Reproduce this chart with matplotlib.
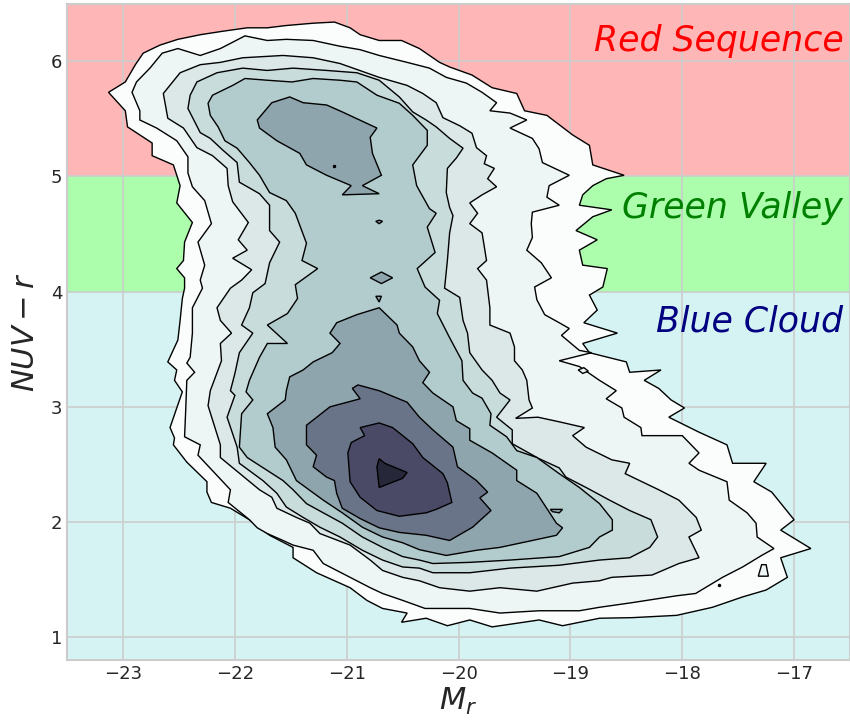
import matplotlib
matplotlib.use("Agg")
import matplotlib.pyplot as plt
import seaborn as sns

# colour-magnitude density, filled contour levels (outermost first)
level1 = [(-23.13, 5.73), (-22.98, 5.82), (-22.89, 5.97), (-22.82, 6.07), (-22.67, 6.14),
          (-22.51, 6.19), (-22.31, 6.23), (-22.11, 6.26), (-21.89, 6.29), (-21.71, 6.29),
          (-21.54, 6.31), (-21.30, 6.33), (-21.11, 6.34), (-20.97, 6.29), (-20.88, 6.23),
          (-20.71, 6.18), (-20.51, 6.18), (-20.35, 6.11), (-20.17, 5.99), (-20.08, 5.95),
          (-19.88, 5.88), (-19.70, 5.77), (-19.48, 5.72), (-19.41, 5.57), (-19.21, 5.53),
          (-18.98, 5.36), (-18.83, 5.27), (-18.80, 5.10), (-18.52, 5.01), (-18.68, 4.98),
          (-18.80, 4.92), (-18.89, 4.84), (-18.92, 4.75), (-18.63, 4.71), (-18.80, 4.65),
          (-18.95, 4.53), (-18.76, 4.45), (-18.92, 4.36), (-18.89, 4.23), (-18.67, 4.20),
          (-18.71, 4.04), (-18.83, 3.97), (-18.76, 3.84), (-18.88, 3.73), (-18.58, 3.64),
          (-18.89, 3.55), (-18.83, 3.47), (-18.50, 3.39), (-18.47, 3.30), (-18.19, 3.32),
          (-18.34, 3.23), (-18.21, 3.16), (-18.10, 3.06), (-17.98, 2.99), (-18.12, 2.91),
          (-17.85, 2.78), (-17.60, 2.67), (-17.55, 2.51), (-17.25, 2.51), (-17.36, 2.35),
          (-17.20, 2.26), (-17.00, 2.02), (-17.12, 1.93), (-16.85, 1.77), (-17.12, 1.69),
          (-17.06, 1.52), (-17.25, 1.41), (-17.46, 1.35), (-17.73, 1.26), (-18.05, 1.19),
          (-18.45, 1.17), (-18.74, 1.165), (-19.07, 1.10), (-19.28, 1.15), (-19.70, 1.09),
          (-19.90, 1.15), (-20.10, 1.10), (-20.29, 1.165), (-20.51, 1.13), (-20.46, 1.21),
          (-20.68, 1.25), (-20.82, 1.32), (-20.97, 1.43), (-21.27, 1.56), (-21.48, 1.69),
          (-21.48, 1.78), (-21.69, 1.885), (-21.87, 2.02), (-22.04, 2.12), (-22.21, 2.17),
          (-22.25, 2.26), (-22.25, 2.35), (-22.43, 2.52), (-22.55, 2.67), (-22.54, 2.73),
          (-22.58, 2.82), (-22.52, 2.99), (-22.47, 3.13), (-22.54, 3.23), (-22.52, 3.32),
          (-22.60, 3.39), (-22.51, 3.58), (-22.49, 3.75), (-22.47, 3.94), (-22.45, 4.03),
          (-22.45, 4.12), (-22.52, 4.20), (-22.46, 4.27), (-22.45, 4.43), (-22.38, 4.60),
          (-22.52, 4.77), (-22.49, 4.92), (-22.55, 5.10), (-22.74, 5.18), (-22.74, 5.29),
          (-22.96, 5.43), (-22.98, 5.57)]

level2 = [(-22.92, 5.73), (-22.88, 5.82), (-22.76, 5.94), (-22.65, 6.07), (-22.51, 6.11),
          (-22.31, 6.05), (-22.13, 6.11), (-21.91, 6.22), (-21.71, 6.18), (-21.54, 6.19),
          (-21.30, 6.18), (-21.06, 6.13), (-20.88, 6.10), (-20.71, 6.05), (-20.46, 5.99),
          (-20.26, 5.94), (-20.11, 5.86), (-19.93, 5.81), (-19.79, 5.73), (-19.66, 5.64),
          (-19.72, 5.57), (-19.54, 5.55), (-19.39, 5.49), (-19.54, 5.42), (-19.34, 5.33),
          (-19.28, 5.24), (-19.25, 5.12), (-19.01, 5.01), (-19.19, 4.92), (-19.21, 4.82),
          (-19.10, 4.75), (-19.34, 4.69), (-19.35, 4.59), (-19.34, 4.47), (-19.39, 4.36),
          (-19.26, 4.25), (-19.17, 4.12), (-19.32, 4.04), (-19.30, 3.93), (-19.23, 3.80),
          (-19.10, 3.73), (-19.01, 3.68), (-19.08, 3.62), (-18.92, 3.49), (-18.81, 3.47),
          (-19.10, 3.40), (-18.92, 3.35), (-18.74, 3.23), (-18.59, 3.14), (-18.68, 3.07),
          (-18.54, 2.99), (-18.52, 2.91), (-18.37, 2.82), (-18.36, 2.75), (-18.00, 2.75),
          (-17.85, 2.60), (-17.94, 2.51), (-17.85, 2.45), (-17.60, 2.35), (-17.58, 2.19),
          (-17.42, 2.08), (-17.34, 1.99), (-17.33, 1.87), (-17.18, 1.77), (-17.29, 1.71),
          (-17.46, 1.61), (-17.64, 1.52), (-17.88, 1.38), (-18.05, 1.36), (-18.45, 1.30),
          (-18.74, 1.26), (-18.92, 1.23), (-19.28, 1.23), (-19.63, 1.21), (-19.90, 1.25),
          (-20.30, 1.25), (-20.50, 1.32), (-20.68, 1.38), (-20.79, 1.43), (-20.97, 1.52),
          (-21.21, 1.64), (-21.30, 1.755), (-21.48, 1.80), (-21.57, 1.84), (-21.71, 1.90),
          (-21.80, 1.95), (-21.87, 2.02), (-22.06, 2.17), (-22.04, 2.28), (-22.33, 2.58),
          (-22.31, 2.67), (-22.45, 2.74), (-22.44, 2.97), (-22.43, 3.23), (-22.36, 3.30),
          (-22.43, 3.38), (-22.40, 3.43), (-22.38, 3.64), (-22.38, 3.86), (-22.29, 4.03),
          (-22.31, 4.10), (-22.27, 4.23), (-22.33, 4.43), (-22.21, 4.59), (-22.27, 4.79),
          (-22.38, 4.91), (-22.42, 5.03), (-22.42, 5.17), (-22.52, 5.31), (-22.70, 5.42),
          (-22.85, 5.49), (-22.85, 5.57)]

level3 = [(-22.64, 5.72), (-22.49, 5.90), (-22.31, 5.97), (-22.13, 5.99), (-21.93, 6.03),
          (-21.57, 6.05), (-21.30, 6.03), (-21.06, 5.98), (-20.71, 5.86), (-20.46, 5.79),
          (-20.32, 5.72), (-20.20, 5.64), (-20.14, 5.51), (-19.99, 5.44), (-19.88, 5.375),
          (-19.84, 5.25), (-19.75, 5.18), (-19.77, 5.11), (-19.68, 5.07), (-19.74, 4.98),
          (-19.66, 4.91), (-19.79, 4.84), (-19.90, 4.77), (-19.83, 4.68), (-19.90, 4.59),
          (-19.79, 4.51), (-19.75, 4.27), (-19.83, 4.20), (-19.75, 4.10), (-19.72, 3.86),
          (-19.72, 3.71), (-19.54, 3.64), (-19.50, 3.52), (-19.50, 3.40), (-19.43, 3.32),
          (-19.39, 3.23), (-19.37, 3.06), (-19.34, 2.99), (-19.49, 2.90), (-19.29, 2.91),
          (-19.10, 2.87), (-18.875, 2.82), (-18.98, 2.75), (-18.86, 2.65), (-18.63, 2.54),
          (-18.47, 2.51), (-18.51, 2.42), (-18.21, 2.28), (-18.03, 2.19), (-17.875, 2.04),
          (-17.83, 1.93), (-17.94, 1.87), (-17.85, 1.69), (-18.03, 1.64), (-18.27, 1.54),
          (-18.63, 1.52), (-18.74, 1.49), (-18.98, 1.47), (-19.30, 1.40), (-19.63, 1.43),
          (-19.90, 1.40), (-20.17, 1.43), (-20.35, 1.49), (-20.50, 1.52), (-20.68, 1.58),
          (-20.79, 1.67), (-20.97, 1.80), (-21.24, 1.90), (-21.33, 1.99), (-21.45, 2.04),
          (-21.625, 2.12), (-21.67, 2.215), (-21.78, 2.28), (-22.03, 2.48), (-22.13, 2.56),
          (-22.13, 2.67), (-22.24, 3.01), (-22.22, 3.14), (-22.12, 3.40), (-22.13, 3.55),
          (-22.03, 3.64), (-22.13, 3.75), (-22.16, 3.86), (-22.04, 4.03), (-21.94, 4.10),
          (-21.85, 4.19), (-22.02, 4.29), (-21.89, 4.36), (-21.97, 4.45), (-21.88, 4.60),
          (-22.02, 4.78), (-22.06, 4.92), (-22.07, 5.07), (-22.20, 5.18), (-22.34, 5.25),
          (-22.46, 5.42), (-22.60, 5.505)]

level4 = [(-22.40, 5.705), (-22.34, 5.82), (-22.16, 5.90), (-21.93, 5.94), (-21.71, 5.92),
          (-21.48, 5.94), (-21.18, 5.92), (-20.91, 5.90), (-20.71, 5.835), (-20.53, 5.69),
          (-20.41, 5.56), (-20.29, 5.49), (-20.20, 5.43), (-20.08, 5.33), (-19.96, 5.245),
          (-20.02, 5.16), (-20.10, 5.07), (-20.11, 4.86), (-20.08, 4.73), (-20.05, 4.66),
          (-20.08, 4.51), (-20.10, 4.27), (-20.125, 4.03), (-19.99, 3.95), (-19.96, 3.75),
          (-19.92, 3.64), (-19.90, 3.47), (-19.79, 3.32), (-19.70, 3.23), (-19.63, 3.12),
          (-19.54, 3.06), (-19.66, 2.91), (-19.52, 2.80), (-19.52, 2.68), (-19.28, 2.55),
          (-19.10, 2.47), (-19.04, 2.39), (-18.86, 2.30), (-18.65, 2.19), (-18.47, 2.10),
          (-18.28, 2.02), (-18.22, 1.87), (-18.29, 1.78), (-18.47, 1.69), (-18.74, 1.67),
          (-19.10, 1.625), (-19.54, 1.60), (-19.90, 1.56), (-20.23, 1.56), (-20.35, 1.60),
          (-20.50, 1.61), (-20.68, 1.67), (-20.86, 1.755), (-21.06, 1.87), (-21.24, 1.955),
          (-21.39, 2.04), (-21.54, 2.13), (-21.625, 2.25), (-21.75, 2.36), (-21.96, 2.51),
          (-21.98, 2.65), (-22.07, 2.91), (-22.00, 3.10), (-22.04, 3.14), (-22.00, 3.29),
          (-21.96, 3.47), (-21.84, 3.64), (-21.94, 3.71), (-21.87, 3.86), (-21.84, 3.99),
          (-21.73, 4.07), (-21.69, 4.25), (-21.60, 4.43), (-21.69, 4.53), (-21.69, 4.75),
          (-21.78, 4.85), (-21.96, 4.95), (-21.98, 5.12), (-22.11, 5.23), (-22.22, 5.33),
          (-22.31, 5.38), (-22.42, 5.59)]

level5 = [(-22.24, 5.635), (-22.20, 5.705), (-22.02, 5.79), (-21.91, 5.85), (-21.71, 5.835),
          (-21.49, 5.82), (-21.30, 5.85), (-21.06, 5.835), (-20.91, 5.82), (-20.73, 5.705),
          (-20.53, 5.635), (-20.41, 5.53), (-20.28, 5.40), (-20.28, 5.27), (-20.41, 5.10),
          (-20.375, 4.92), (-20.26, 4.72), (-20.20, 4.68), (-20.28, 4.56), (-20.21, 4.34),
          (-20.37, 4.20), (-20.30, 4.04), (-20.17, 3.925), (-20.19, 3.81), (-20.08, 3.60),
          (-19.97, 3.40), (-19.96, 3.23), (-19.875, 3.12), (-19.79, 3.075), (-19.71, 2.94),
          (-19.72, 2.84), (-19.57, 2.74), (-19.48, 2.62), (-19.30, 2.56), (-19.10, 2.42),
          (-18.92, 2.30), (-18.74, 2.16), (-18.625, 2.02), (-18.625, 1.93), (-18.74, 1.87),
          (-18.83, 1.78), (-19.10, 1.70), (-19.54, 1.67), (-19.90, 1.65), (-20.23, 1.64),
          (-20.35, 1.67), (-20.50, 1.70), (-20.68, 1.78), (-20.86, 1.87), (-21.04, 1.99),
          (-21.21, 2.08), (-21.36, 2.16), (-21.48, 2.28), (-21.57, 2.36), (-21.89, 2.56),
          (-21.96, 2.65), (-21.94, 2.94), (-21.84, 3.06), (-21.90, 3.13), (-21.87, 3.23),
          (-21.78, 3.43), (-21.71, 3.55), (-21.53, 3.55), (-21.71, 3.71), (-21.53, 3.81),
          (-21.44, 3.94), (-21.46, 4.06), (-21.26, 4.20), (-21.40, 4.27), (-21.36, 4.42),
          (-21.46, 4.68), (-21.54, 4.79), (-21.69, 4.86), (-21.78, 5.01), (-21.87, 5.12),
          (-21.98, 5.245), (-22.09, 5.31), (-22.15, 5.43), (-22.22, 5.53)]

# level 6 splits into the red-sequence peak and the blue-cloud peak
level6_red = [(-21.80, 5.49), (-21.67, 5.64), (-21.51, 5.69), (-21.39, 5.64), (-21.18, 5.62),
              (-21.04, 5.56), (-20.73, 5.42), (-20.79, 5.34), (-20.77, 5.20), (-20.69, 5.01),
              (-20.86, 4.92), (-20.71, 4.85), (-21.04, 4.84), (-20.96, 4.92), (-21.18, 5.01),
              (-21.36, 5.10), (-21.42, 5.20), (-21.625, 5.31), (-21.78, 5.42)]

level6_blue = [(-20.71, 3.86), (-20.55, 3.71), (-20.53, 3.64), (-20.41, 3.52), (-20.35, 3.40),
               (-20.26, 3.30), (-20.32, 3.21), (-20.23, 3.12), (-20.05, 3.00), (-20.02, 2.88),
               (-19.90, 2.81), (-19.90, 2.71), (-19.70, 2.60), (-19.48, 2.45), (-19.48, 2.36),
               (-19.30, 2.25), (-19.125, 1.99), (-19.07, 1.95), (-19.125, 1.885), (-19.34, 1.84),
               (-19.63, 1.78), (-19.84, 1.755), (-20.11, 1.71), (-20.35, 1.76), (-20.50, 1.82),
               (-20.68, 1.87), (-20.86, 1.955), (-21.04, 2.08), (-21.21, 2.19), (-21.45, 2.36),
               (-21.54, 2.54), (-21.64, 2.65), (-21.66, 2.82), (-21.71, 2.94), (-21.55, 3.06),
               (-21.54, 3.14), (-21.51, 3.26), (-21.39, 3.32), (-21.30, 3.39), (-21.13, 3.47),
               (-21.06, 3.55), (-21.15, 3.64), (-21.09, 3.73), (-20.91, 3.80)]

level7 = [(-20.90, 3.19), (-20.71, 3.14), (-20.46, 3.04), (-20.35, 2.91), (-20.23, 2.80),
          (-20.05, 2.65), (-20.01, 2.48), (-19.84, 2.36), (-19.74, 2.26), (-19.81, 2.21),
          (-19.71, 2.10), (-19.875, 1.955), (-20.08, 1.84), (-20.29, 1.885), (-20.53, 1.91),
          (-20.71, 1.95), (-20.88, 2.03), (-21.04, 2.12), (-21.09, 2.25), (-21.11, 2.36),
          (-21.18, 2.39), (-21.30, 2.48), (-21.27, 2.58), (-21.36, 2.67), (-21.36, 2.84),
          (-21.15, 3.00), (-20.88, 3.07), (-20.95, 3.16)]

level8 = [(-20.88, 2.82), (-20.71, 2.86), (-20.59, 2.82), (-20.41, 2.68), (-20.32, 2.56),
          (-20.14, 2.42), (-20.10, 2.34), (-20.06, 2.17), (-20.20, 2.11), (-20.29, 2.08),
          (-20.53, 2.05), (-20.73, 2.10), (-20.88, 2.215), (-20.97, 2.35), (-20.99, 2.60),
          (-20.96, 2.69), (-20.84, 2.75)]

level9 = [(-20.71, 2.55), (-20.66, 2.51), (-20.46, 2.43), (-20.50, 2.38), (-20.71, 2.30),
          (-20.73, 2.48)]

# small isolated islands (level index, outline)
islands = [
    (6, [(-20.74, 4.61), (-20.71, 4.62), (-20.68, 4.61), (-20.71, 4.59)]),
    (6, [(-20.79, 4.12), (-20.69, 4.17), (-20.59, 4.12), (-20.69, 4.07)]),
    (6, [(-20.74, 3.96), (-20.69, 3.96), (-20.71, 3.91)]),
    (6, [(-19.18, 2.11), (-19.07, 2.11), (-19.10, 2.08), (-19.16, 2.09)]),
    (2, [(-18.93, 3.32), (-18.88, 3.34), (-18.84, 3.31), (-18.89, 3.29)]),
    (2, [(-17.29, 1.63), (-17.25, 1.63), (-17.23, 1.53), (-17.32, 1.53)]),
]
dots = [(-21.11, 5.09), (-17.67, 1.45)]

level_colors = ["#fbfdfd", "#eef5f5", "#dce8e8", "#c8dcdc", "#b2cccd",
                "#8fa5ad", "#6a7488", "#4a4a66", "#27273a"]

# colour bands and their labels
band_edges = [0.8, 4.0, 5.0, 6.5]
band_colors = ["#d6f3f3", "#acfdac", "#ffb6b6"]
band_names = ["Blue Cloud", "Green Valley", "Red Sequence"]
band_text_colors = ["#000080", "#008000", "#ff0000"]
band_text_y = [3.65, 4.64, 6.09]

xticks = [-23, -22, -21, -20, -19, -18, -17]
yticks = [1, 2, 3, 4, 5, 6]

sns.set_style("whitegrid")
fig = plt.figure(figsize=(8.5, 7.24), dpi=100)
ax = fig.add_axes([0.079, 0.088, 0.921, 0.907])

for lo, hi, c in zip(band_edges[:-1], band_edges[1:], band_colors):
    ax.axhspan(lo, hi, color=c, lw=0, zorder=0)

contours = [level1, level2, level3, level4, level5, level6_red, level6_blue,
            level7, level8, level9]
contour_levels = [1, 2, 3, 4, 5, 6, 6, 7, 8, 9]
for pts, lev in zip(contours, contour_levels):
    xs = [p[0] for p in pts]
    ys = [p[1] for p in pts]
    ax.fill(xs, ys, facecolor=level_colors[lev - 1], edgecolor="black",
            lw=1.0, zorder=2 + lev * 0.01)

for lev, pts in islands:
    xs = [p[0] for p in pts]
    ys = [p[1] for p in pts]
    ax.fill(xs, ys, facecolor=level_colors[lev - 1], edgecolor="black",
            lw=1.0, zorder=2.5)
for x, y in dots:
    ax.plot(x, y, marker="o", ms=1.5, color="black", zorder=2.6)

for name, c, y in zip(band_names, band_text_colors, band_text_y):
    ax.text(-16.56, y, name, color=c, fontsize=25, style="italic",
            ha="right", va="baseline", zorder=3)

ax.set_xlim(-23.5, -16.5)
ax.set_ylim(0.8, 6.5)
ax.set_xticks(xticks)
ax.set_yticks(yticks)
ax.grid(True, color="#cccccc", lw=1.2, zorder=0.5)
ax.set_axisbelow(True)
ax.tick_params(labelsize=13, colors="#262626", length=0)
for s in ax.spines.values():
    s.set_color("#cccccc")
    s.set_linewidth(1.5)

ax.set_xlabel("$M_r$", fontsize=22, labelpad=2)
ax.set_ylabel("$NUV - r$", fontsize=22, labelpad=8)

fig.savefig("out.png", dpi=100)
